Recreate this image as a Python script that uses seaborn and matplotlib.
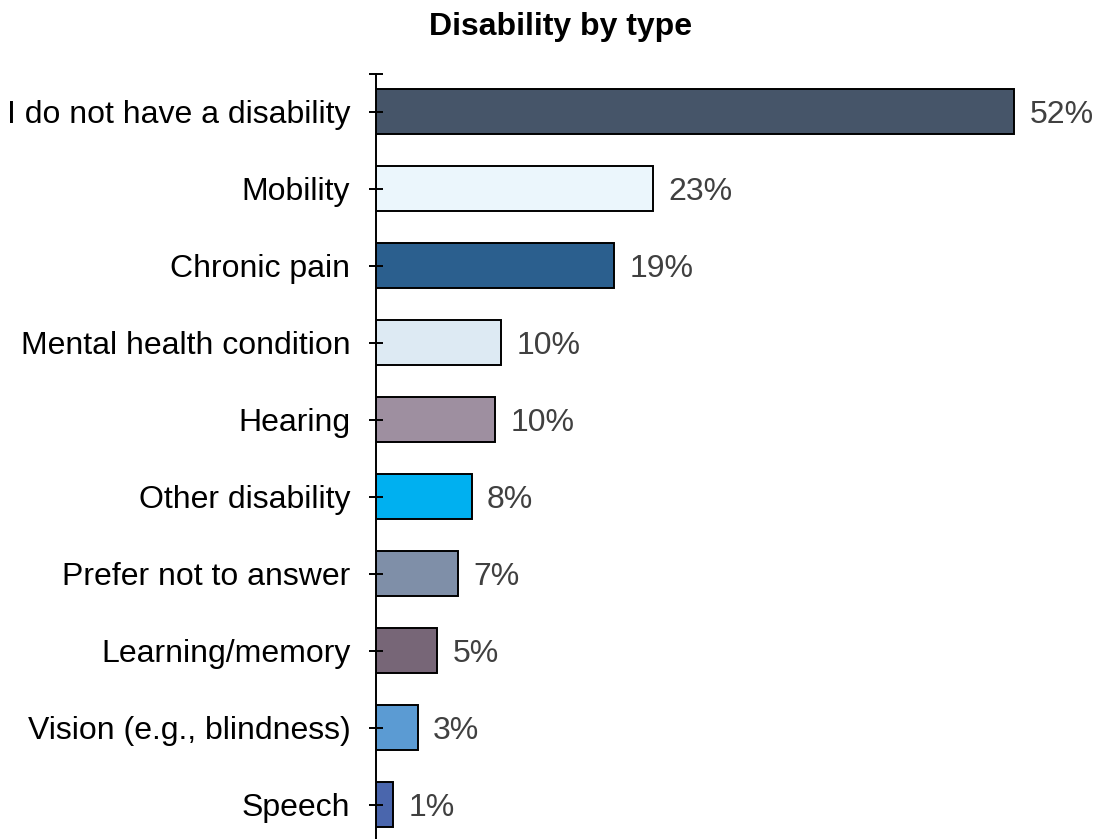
import matplotlib
matplotlib.use("Agg")
import matplotlib.pyplot as plt
import seaborn as sns
import pandas as pd

categories = [
    "I do not have a disability",
    "Mobility",
    "Chronic pain",
    "Mental health condition",
    "Hearing",
    "Other disability",
    "Prefer not to answer",
    "Learning/memory",
    "Vision (e.g., blindness)",
    "Speech",
]
shares = [52.0, 22.6, 19.4, 10.2, 9.7, 7.8, 6.7, 5.0, 3.4, 1.4]
colors = [
    "#465569", "#EBF6FC", "#2B5F8E", "#DDEAF3", "#9E8FA0",
    "#00B0F0", "#7F8FA8", "#776677", "#5B9BD3", "#4A66AD",
]

df = pd.DataFrame({"category": categories, "share": shares})

sns.set_theme(style="white")
plt.rcParams["font.family"] = ["Liberation Sans", "DejaVu Sans"]

fig = plt.figure(figsize=(10.97, 8.39), dpi=100)
ax = fig.add_axes([376 / 1097, 1 - 843 / 839, 58 * 12.27 / 1097, 769 / 839])

sns.barplot(
    data=df, x="share", y="category", hue="category",
    palette=colors, saturation=1, legend=False, width=0.58,
    edgecolor="black", linewidth=1.4, ax=ax, orient="h",
)

ax.set_xlim(0, 58)
ax.set_ylim(9.5, -0.49)
ax.set_axisbelow(False)

for container in ax.containers:
    texts = ax.bar_label(container, labels=[f"{v:.0f}%" for v in container.datavalues],
                         padding=11, fontsize=23, color="#404040")
    for t in texts:
        t.set_verticalalignment("center_baseline")

for side in ["top", "right", "bottom"]:
    ax.spines[side].set_visible(False)
ax.spines["left"].set_color("black")
ax.spines["left"].set_linewidth(1.4)

ax.set_xticks([])
ax.set_xlabel("")
ax.set_ylabel("")
ax.tick_params(axis="y", which="both", direction="inout", length=10, width=1.4,
               color="black", left=True, labelsize=23, labelcolor="black", pad=13.5)
ax.set_yticks([-0.49], minor=True)

fig.text(561 / 1097, 1 - 27 / 839, "Disability by type", ha="center", va="center",
         fontsize=23, fontweight="bold", color="black")

fig.savefig("out.png", dpi=100)
